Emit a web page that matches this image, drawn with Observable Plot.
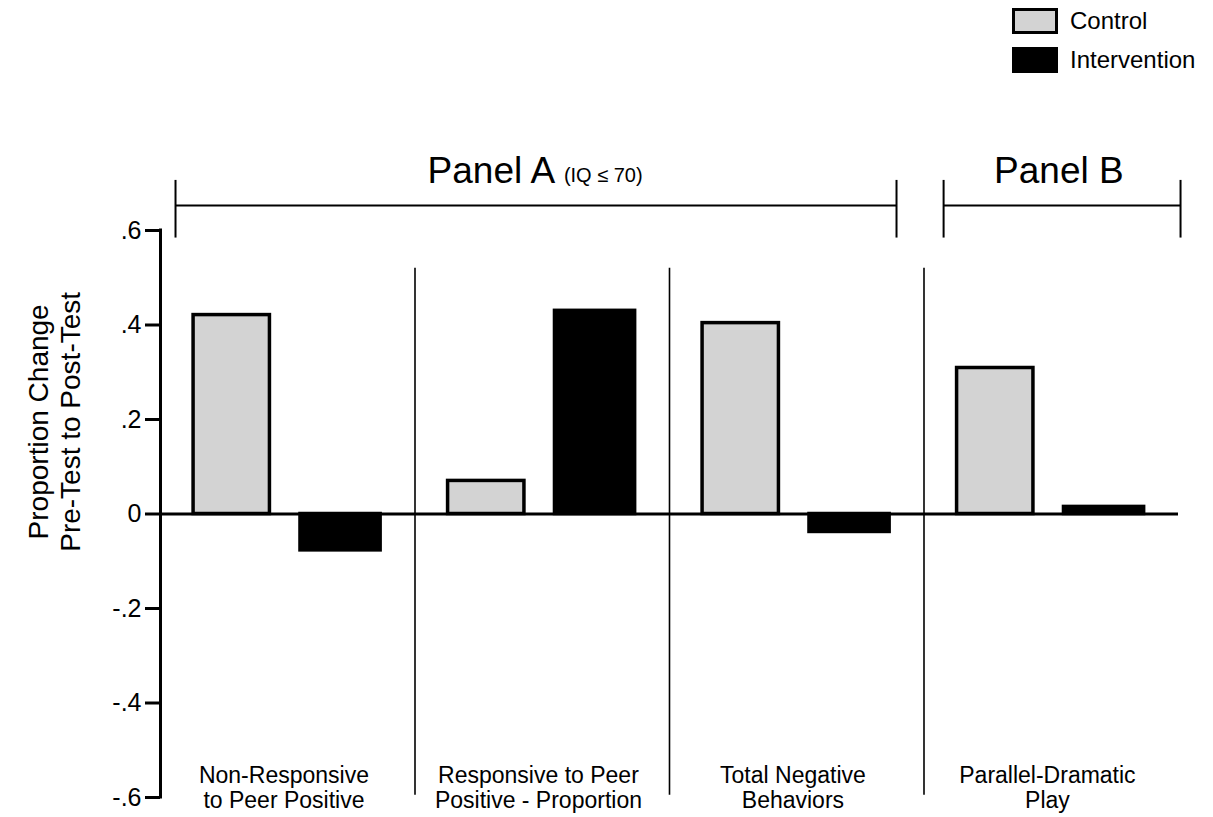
<!DOCTYPE html>
<html>
<head>
<meta charset="utf-8">
<script src="https://cdn.jsdelivr.net/npm/d3@7"></script>
<script src="https://cdn.jsdelivr.net/npm/@observablehq/plot@0.6"></script>
<style>
  html, body { margin: 0; padding: 0; background: #fff; }
  #wrap { position: relative; width: 1213px; height: 817px; font-family: "Liberation Sans", Arial, sans-serif; }
  #legend { position: absolute; left: 1012px; top: 1px; font-size: 24px; color: #000; }
  .item { display: flex; align-items: center; height: 39px; }
  .sw { width: 40px; height: 20px; border: 3px solid #000; margin-right: 12px; box-sizing: content-box; }
</style>
</head>
<body>
<div id="wrap">
  <div id="chart"></div>
  <div id="legend"></div>
</div>
<script>
// ---- data ----
const categories = ["Non-Responsive\nto Peer Positive", "Responsive to Peer\nPositive - Proportion", "Total Negative\nBehaviors", "Parallel-Dramatic\nPlay"];
const groups = ["Control", "Intervention"];
const controlValues = [0.421, 0.070, 0.404, 0.309];
const interventionValues = [-0.077, 0.430, -0.038, 0.015];
const yTicks = [-0.6, -0.4, -0.2, 0, 0.2, 0.4, 0.6];
const panelLabels = ["Panel A", "Panel B"];
const panelSub = "(IQ \u2264 70)";
const yLabel = "Proportion Change\nPre-Test to Post-Test";
const groupColors = ["#d3d3d3", "#000000"];

// ---- layout (in scale units) ----
const slot = {Control: [0.13, 0.43], Intervention: [0.55, 0.865]};
const bars = categories.flatMap((c, i) => [
  {i, group: "Control", value: controlValues[i]},
  {i, group: "Intervention", value: interventionValues[i]}
]);
const cats = categories.map((c, i) => ({i, label: c}));
const brackets = [
  {x1: 0.059, x2: 2.892, label: panelLabels[0], cx: 1.3},
  {x1: 3.077, x2: 4.008, label: panelLabels[1], cx: 3.53}
];
const bracketY = 0.653, bracketTop = 0.706, bracketBottom = 0.584, headY = 0.725;
const tickLen = 15 / 254.5;
const fmt = d => d === 0 ? "0" : (d < 0 ? "-" : "") + d3.format(".1f")(Math.abs(d)).replace(/^0/, "");

const chart = Plot.plot({
  width: 1213,
  height: 817,
  marginLeft: 160,
  marginRight: 35,
  marginTop: 230,
  marginBottom: 20,
  style: {fontFamily: "'Liberation Sans', Arial, sans-serif", background: "#fff", color: "#000"},
  x: {domain: [0, 4], axis: null},
  y: {domain: [-0.6, 0.6], axis: null},
  color: {domain: groups, range: groupColors},
  marks: [
    // separators
    Plot.ruleX([1, 2, 3], {y1: -0.595, y2: 0.52, stroke: "#000", strokeWidth: 1.6}),
    // bars
    Plot.rectY(bars, {
      x1: d => d.i + slot[d.group][0],
      x2: d => d.i + slot[d.group][1],
      y: "value",
      fill: "group",
      stroke: "#000",
      strokeWidth: 3.5
    }),
    // zero line
    Plot.ruleY([0], {x1: 0, x2: 4, stroke: "#000", strokeWidth: 3}),
    // y axis
    Plot.ruleX([0], {y1: -0.6, y2: 0.6, stroke: "#000", strokeWidth: 3, strokeLinecap: "square"}),
    Plot.ruleY(yTicks, {x1: -tickLen, x2: 0, stroke: "#000", strokeWidth: 3}),
    Plot.text(yTicks, {x: -tickLen, y: d => d, text: fmt, textAnchor: "end", dx: -4, fontSize: 25}),
    // y label
    Plot.text([yLabel], {x: -0.42, y: 0.195, rotate: -90, fontSize: 28, lineHeight: 1.15, textAnchor: "middle"}),
    // category labels
    Plot.text(cats, {x: d => d.i + 0.485, y: -0.578, text: "label", fontSize: 23, lineHeight: 1.1}),
    // panel brackets
    Plot.ruleY(brackets, {x1: "x1", x2: "x2", y: bracketY, stroke: "#000", strokeWidth: 2}),
    Plot.ruleX(brackets, {x: "x1", y1: bracketBottom, y2: bracketTop, stroke: "#000", strokeWidth: 2}),
    Plot.ruleX(brackets, {x: "x2", y1: bracketBottom, y2: bracketTop, stroke: "#000", strokeWidth: 2}),
    Plot.text(brackets, {x: "cx", y: headY, text: "label", fontSize: 37}),
    Plot.text([panelSub], {x: 1.585, y: headY - 0.008, textAnchor: "start", fontSize: 20})
  ]
});
document.getElementById("chart").appendChild(chart);

// legend
const legend = document.getElementById("legend");
groups.forEach((g, k) => {
  const it = document.createElement("div");
  it.className = "item";
  const sw = document.createElement("span");
  sw.className = "sw";
  sw.style.background = groupColors[k];
  const t = document.createElement("span");
  t.textContent = g;
  it.appendChild(sw); it.appendChild(t);
  legend.appendChild(it);
});
</script>
</body>
</html>
